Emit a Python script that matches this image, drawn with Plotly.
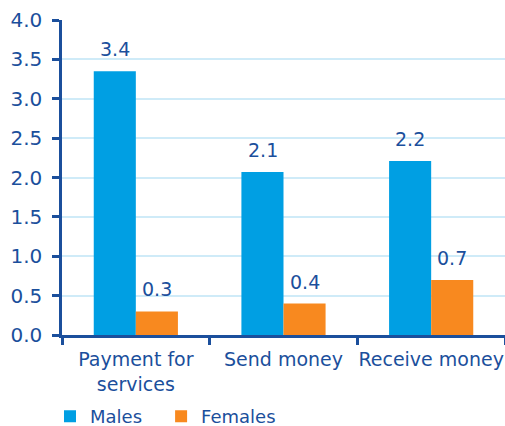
import plotly.graph_objects as go

categories = ["Payment for<br>services", "Send money", "Receive money"]
males = [3.35, 2.07, 2.21]
females = [0.30, 0.40, 0.70]
tick_vals = [0, 0.5, 1.0, 1.5, 2.0, 2.5, 3.0, 3.5, 4.0]

BLUE = "#009FE3"
ORANGE = "#F8891F"
TEXT = "#1B4F9C"
FONT = "DejaVu Sans"

fig = go.Figure()
fig.add_trace(go.Bar(name="Males", x=categories, y=males, marker_color=BLUE,
                     marker_line_width=0, legend="legend"))
fig.add_trace(go.Bar(name="Females", x=categories, y=females, marker_color=ORANGE,
                     marker_line_width=0, legend="legend2"))

# value labels above bars
for series, shift in ((males, -21), (females, 21)):
    for c, v in zip(categories, series):
        fig.add_annotation(x=c, y=v, text=f"{v:.1f}", showarrow=False,
                           xshift=shift, yshift=9, yanchor="bottom",
                           font=dict(size=19, color=TEXT, family=FONT))

legend_style = dict(orientation="h", xref="container", yref="container",
                    xanchor="left", y=0.022, yanchor="middle",
                    font=dict(size=18, color=TEXT, family=FONT),
                    itemwidth=30, bgcolor="rgba(0,0,0,0)")

fig.update_layout(
    width=505, height=426,
    margin=dict(l=62, r=0, t=20, b=91, autoexpand=False),
    paper_bgcolor="white", plot_bgcolor="white",
    barmode="group", bargap=0.43, bargroupgap=0,
    font=dict(family=FONT, color=TEXT, size=18),
    showlegend=True,
    legend=dict(x=0.099, **legend_style),
    legend2=dict(x=0.319, **legend_style),
)
fig.update_yaxes(range=[0, 4.0], tickvals=tick_vals, tickformat=".1f",
                 showgrid=True, gridcolor="#CFEBF8", gridwidth=1.5,
                 showline=True, linecolor=TEXT, linewidth=2.5,
                 ticks="outside", ticklen=7, tickwidth=2.5, tickcolor=TEXT,
                 ticklabelstandoff=6, automargin=False,
                 tickfont=dict(size=20, color=TEXT, family=FONT), zeroline=False)
fig.update_xaxes(showline=True, linecolor=TEXT, linewidth=3,
                 ticks="outside", tickson="boundaries", ticklen=7, tickwidth=2.5,
                 tickcolor=TEXT, automargin=False, tickangle=0,
                 ticklabelstandoff=5,
                 tickfont=dict(size=19, color=TEXT, family=FONT))

fig.write_html("out.html", config={"displayModeBar": False},
               post_script="document.body.style.margin='0';document.body.style.overflow='hidden';")
